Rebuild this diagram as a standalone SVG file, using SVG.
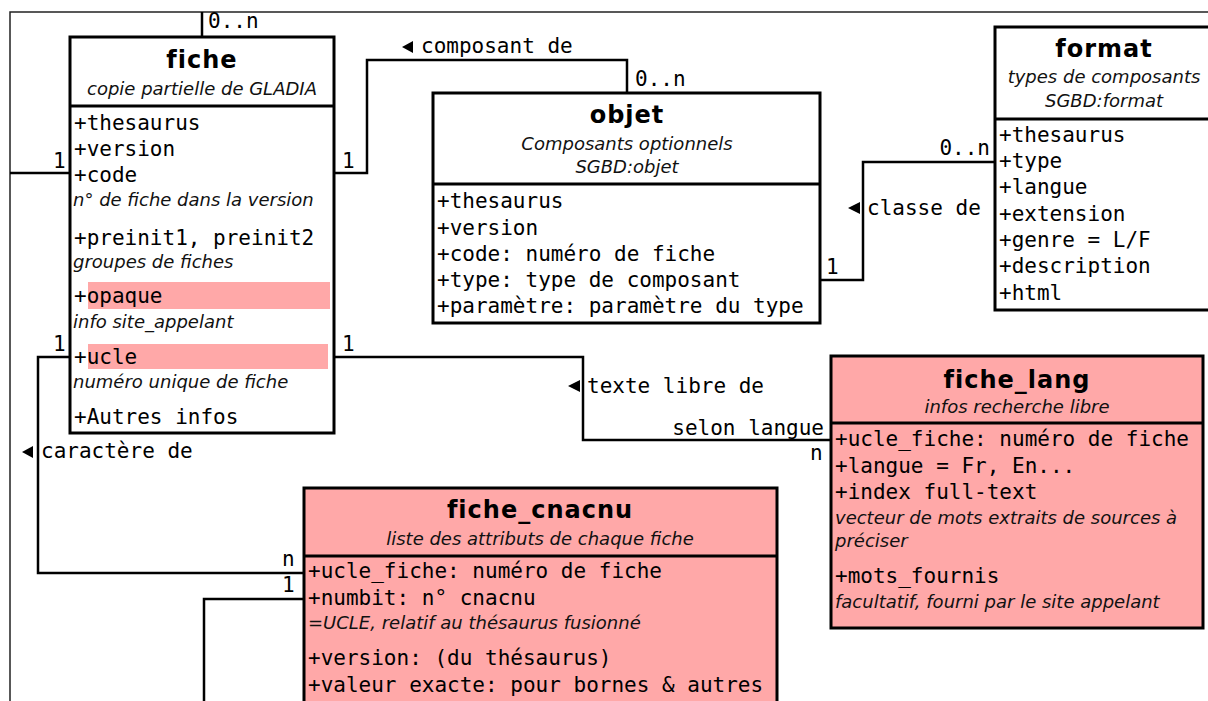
<svg xmlns="http://www.w3.org/2000/svg" width="1208" height="701" viewBox="0 0 1208 701">
<defs>
<style>
.box{stroke:#000;stroke-width:3;fill:#fff}
.pink{fill:#ffa8a8}
.div{stroke:#000;stroke-width:3;fill:none}
.hl{fill:#ffa8a8;stroke:none}
.title{font-family:"DejaVu Sans",sans-serif;font-weight:bold;font-size:24px;letter-spacing:1px;text-anchor:middle;fill:#000}
.sub{font-family:"DejaVu Sans",sans-serif;font-style:italic;font-size:18px;text-anchor:middle;fill:#111}
.note{font-family:"DejaVu Sans",sans-serif;font-style:italic;font-size:18px;fill:#111}
.att{font-family:"DejaVu Sans Mono",monospace;font-size:21px;fill:#000}
.lbl{font-family:"DejaVu Sans Mono",monospace;font-size:21px;fill:#000}
.end{text-anchor:end}
.conn{stroke:#000;stroke-width:2.5;fill:none}
.frame{stroke:#222;stroke-width:1.5;fill:none}
.arr{fill:#000}
</style>
</defs>
<rect width="1208" height="701" fill="#fff"/>
<path class="frame" d="M10,701 V12 H1210"/>

<g id="connectors">
<path class="conn" d="M202,12 V37"/>
<path class="conn" d="M10,173 H70"/>
<path class="conn" d="M334,173 H367 V60 H627 V93"/>
<path class="conn" d="M820,280 H863 V162 H995"/>
<path class="conn" d="M334,357 H583 V440 H831"/>
<path class="conn" d="M70,357 H38 V573 H304"/>
<path class="conn" d="M304,599 H204 V701"/>
<text class="lbl" x="208" y="28">0..n</text>
<text class="lbl" x="53" y="168">1</text>
<text class="lbl" x="342" y="168">1</text>
<polygon class="arr" points="402,47 413,41 413,53"/>
<text class="lbl" x="421" y="53">composant de</text>
<text class="lbl" x="635" y="86">0..n</text>
<text class="lbl" x="826" y="274">1</text>
<text class="lbl end" x="990" y="155">0..n</text>
<polygon class="arr" points="848,208 860,202 860,214"/>
<text class="lbl" x="867" y="215">classe de</text>
<text class="lbl" x="53" y="351">1</text>
<text class="lbl" x="342" y="351">1</text>
<polygon class="arr" points="568,386 580,380 580,392"/>
<text class="lbl" x="587" y="393">texte libre de</text>
<text class="lbl end" x="824" y="435">selon langue</text>
<text class="lbl" x="810" y="460">n</text>
<polygon class="arr" points="22,452 33,446 33,458"/>
<text class="lbl" x="41" y="458">caractère de</text>
<text class="lbl" x="282" y="566">n</text>
<text class="lbl" x="282" y="592">1</text>
</g>

<g id="fiche">
<rect class="box" x="70" y="37" width="264" height="396"/>
<line class="div" x1="70" y1="106" x2="334" y2="106"/>
<text class="title" x="202" y="68">fiche</text>
<text class="sub" x="202" y="95">copie partielle de GLADIA</text>
<rect class="hl" x="88" y="282" width="242" height="27"/>
<rect class="hl" x="88" y="344" width="240" height="25"/>
<text class="att" x="74" y="130">+thesaurus</text>
<text class="att" x="74" y="156">+version</text>
<text class="att" x="74" y="182">+code</text>
<text class="note" x="73" y="206">n° de fiche dans la version</text>
<text class="att" x="74" y="245">+preinit1, preinit2</text>
<text class="note" x="73" y="268">groupes de fiches</text>
<text class="att" x="74" y="303">+opaque</text>
<text class="note" x="73" y="328">info site_appelant</text>
<text class="att" x="74" y="364">+ucle</text>
<text class="note" x="73" y="388">numéro unique de fiche</text>
<text class="att" x="74" y="424">+Autres infos</text>
</g>

<g id="objet">
<rect class="box" x="433" y="93" width="387" height="230"/>
<line class="div" x1="433" y1="184" x2="820" y2="184"/>
<text class="title" x="627" y="123">objet</text>
<text class="sub" x="627" y="150">Composants optionnels</text>
<text class="sub" x="627" y="173">SGBD:objet</text>
<text class="att" x="437" y="208">+thesaurus</text>
<text class="att" x="437" y="235">+version</text>
<text class="att" x="437" y="261">+code: numéro de fiche</text>
<text class="att" x="437" y="287">+type: type de composant</text>
<text class="att" x="437" y="313">+paramètre: paramètre du type</text>
</g>

<g id="format">
<rect class="box" x="995" y="27" width="218" height="283"/>
<line class="div" x1="995" y1="119" x2="1213" y2="119"/>
<text class="title" x="1104" y="57">format</text>
<text class="sub" x="1104" y="83">types de composants</text>
<text class="sub" x="1104" y="107">SGBD:format</text>
<text class="att" x="999" y="142">+thesaurus</text>
<text class="att" x="999" y="168">+type</text>
<text class="att" x="999" y="194">+langue</text>
<text class="att" x="999" y="221">+extension</text>
<text class="att" x="999" y="247">+genre = L/F</text>
<text class="att" x="999" y="273">+description</text>
<text class="att" x="999" y="300">+html</text>
</g>

<g id="fiche_lang">
<rect class="box pink" x="831" y="356" width="372" height="272"/>
<line class="div" x1="831" y1="423" x2="1203" y2="423"/>
<text class="title" x="1017" y="388">fiche_lang</text>
<text class="sub" x="1017" y="413">infos recherche libre</text>
<text class="att" x="835" y="446">+ucle_fiche: numéro de fiche</text>
<text class="att" x="835" y="473">+langue = Fr, En...</text>
<text class="att" x="835" y="499">+index full-text</text>
<text class="note" x="835" y="524">vecteur de mots extraits de sources à</text>
<text class="note" x="835" y="547">préciser</text>
<text class="att" x="835" y="583">+mots_fournis</text>
<text class="note" x="835" y="608">facultatif, fourni par le site appelant</text>
</g>

<g id="fiche_cnacnu">
<rect class="box pink" x="304" y="488" width="473" height="260"/>
<line class="div" x1="304" y1="556" x2="777" y2="556"/>
<text class="title" x="540" y="518">fiche_cnacnu</text>
<text class="sub" x="540" y="545">liste des attributs de chaque fiche</text>
<text class="att" x="308" y="578">+ucle_fiche: numéro de fiche</text>
<text class="att" x="308" y="605">+numbit: n° cnacnu</text>
<text class="note" x="308" y="629">=UCLE, relatif au thésaurus fusionné</text>
<text class="att" x="308" y="665">+version: (du thésaurus)</text>
<text class="att" x="308" y="692">+valeur exacte: pour bornes &amp; autres</text>
</g>
</svg>
